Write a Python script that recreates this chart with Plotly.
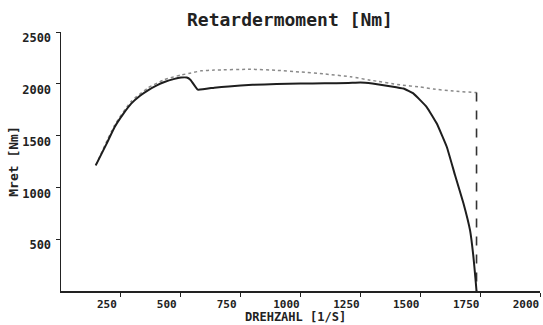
import plotly.graph_objects as go

# Solid curve: measured retarder torque
speed_solid = [145, 190, 224, 260, 293, 330, 363, 400, 432, 470, 501, 525, 540, 571, 640, 700, 800, 900, 1000,
               1100, 1200, 1250, 1300, 1380, 1430, 1472, 1527, 1569, 1611, 1645, 1680, 1708, 1722, 1730, 1735]
torque_solid = [1213, 1420, 1583, 1710, 1809, 1885, 1937, 1985, 2017, 2045, 2060, 2060, 2040, 1944, 1963, 1975, 1990,
                1998, 2003, 2005, 2008, 2012, 2002, 1975, 1954, 1905, 1776, 1616, 1390, 1120, 850, 585, 330, 132, 0]

# Dotted curve: upper limit
speed_dot = [145, 224, 293, 363, 432, 501, 543, 584, 640, 792, 900, 1000, 1100, 1209, 1292, 1416, 1500, 1555,
             1638, 1735]
torque_dot = [1213, 1600, 1830, 1960, 2040, 2085, 2104, 2125, 2132, 2140, 2130, 2114, 2095, 2068, 2035, 1990,
              1969, 1950, 1930, 1915]

# Dashed cut-off line
speed_cut = [1735, 1735]
torque_cut = [1915, 0]

x_ticks = [250, 500, 750, 1000, 1250, 1500, 1750, 2000]
y_ticks = [500, 1000, 1500, 2000, 2500]

title_text = "Retardermoment [Nm]"
x_title = "DREHZAHL [1/S]"
y_title = "Mret [Nm]"

mono = "DejaVu Sans Mono"
ink = "#222222"

fig = go.Figure()
fig.add_trace(go.Scatter(x=speed_dot, y=torque_dot, mode="lines",
                         line=dict(color="#8a8a8a", width=1.5, dash="dot", shape="spline", smoothing=0.5),
                         showlegend=False, hoverinfo="skip"))
fig.add_trace(go.Scatter(x=speed_cut, y=torque_cut, mode="lines",
                         line=dict(color="#333333", width=1.6, dash="dash"),
                         showlegend=False, hoverinfo="skip"))
fig.add_trace(go.Scatter(x=speed_solid, y=torque_solid, mode="lines",
                         line=dict(color="#1e1e1e", width=2, shape="spline", smoothing=0.3),
                         showlegend=False, hoverinfo="skip"))

fig.update_layout(
    width=543, height=325,
    margin=dict(l=61, r=3, t=32, b=34, autoexpand=False),
    paper_bgcolor="white", plot_bgcolor="white",
    title=dict(text=title_text, xref="container", x=0.534, xanchor="center",
               yref="container", y=0.938, yanchor="middle",
               font=dict(family=mono, size=18, color=ink, weight="bold"), automargin=False),
    font=dict(family=mono, color=ink),
    annotations=[dict(text=x_title, xref="paper", yref="paper", x=0.49, y=-0.102,
                      xanchor="center", yanchor="middle", showarrow=False,
                      font=dict(family=mono, size=12, color=ink, weight="bold"))],
)
fig.update_xaxes(range=[0, 2000], tickvals=x_ticks, ticktext=[str(v) for v in x_ticks],
                 showgrid=False, zeroline=False, showline=True, linecolor=ink, linewidth=1.5,
                 ticks="outside", ticklen=4, tickcolor=ink, tickwidth=1, automargin=False,
                 tickfont=dict(family=mono, size=11, color=ink, weight="bold"),
                 ticklabelshift=-14, ticklabelstandoff=-2)
fig.update_yaxes(range=[0, 2500], tickvals=y_ticks, ticktext=[str(v) for v in y_ticks],
                 showgrid=False, zeroline=False, showline=True, linecolor=ink, linewidth=1.5,
                 ticks="outside", ticklen=4, tickcolor=ink, tickwidth=1, automargin=False,
                 tickfont=dict(family=mono, size=12, color=ink, weight="bold"),
                 ticklabelshift=6, ticklabelstandoff=2,
                 title=dict(text=y_title, font=dict(family=mono, size=13, color=ink, weight="bold"), standoff=0))

fig.write_html("out.html", config={"displayModeBar": False, "staticPlot": True},
               post_script="document.body.style.margin='0';document.body.style.overflow='hidden';")
